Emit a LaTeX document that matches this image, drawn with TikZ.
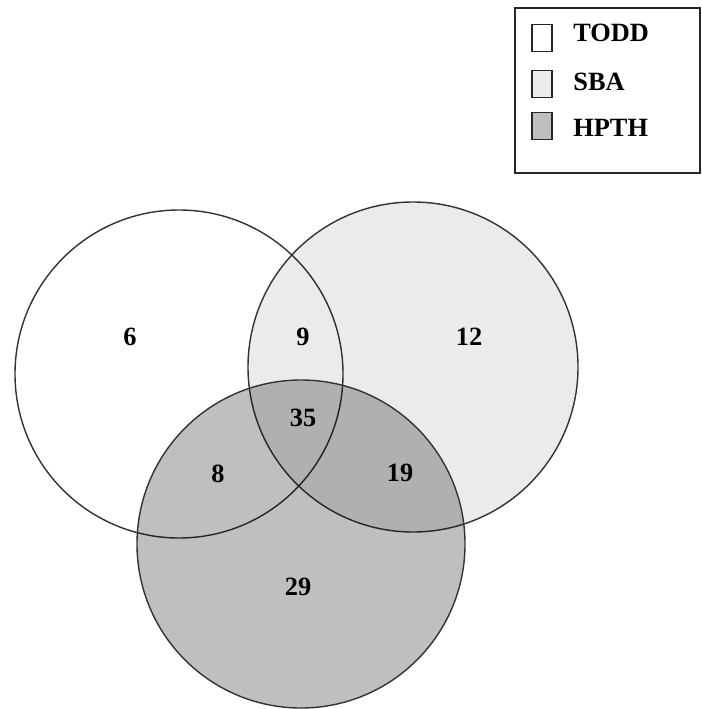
\documentclass[tikz,border=0pt]{standalone}
\usepackage{fontspec}
\setmainfont{Liberation Serif}
\usepackage{tikz}

\begin{document}
\begin{tikzpicture}[x=0.02cm, y=-0.02cm,
  set/.style={draw=black!80, line width=.8pt},
  num/.style={font=\fontsize{15}{18}\selectfont\bfseries},
  key/.style={draw=black!85, line width=.8pt, minimum width=.4cm, minimum height=.54cm, inner sep=0pt},
  keytext/.style={font=\fontsize{15}{18}\selectfont\bfseries, anchor=west, inner sep=0pt}
  ]
  \useasboundingbox (0,0) rectangle (701,709);
  % sets
  \draw[set, fill=white] (179,374) circle (164);
  \draw[set, fill=black, fill opacity=.08] (413,367) circle (165);
  \draw[set, fill=black, fill opacity=.25] (301,544) circle (164);
  % counts
  \node[num] (t) at (130,337) {6};
  \node[num] (ts) at (303,337) {9};
  \node[num] (s) at (469,337) {12};
  \node[num] (tsh) at (303,418) {35};
  \node[num] (th) at (218,474) {8};
  \node[num] (sh) at (400,473) {19};
  \node[num] (h) at (298,587) {29};
  % legend
  \draw[line width=.8pt, draw=black!85] (515,8) rectangle (700,173);
  \node[key, fill=white] (tkey) at (542,38) {};
  \node[key, fill=black!8] (skey) at (542,84) {};
  \node[key, fill=black!25] (hkey) at (542,126) {};
  \node[keytext] at (573,33) {TODD};
  \node[keytext] at (573,82) {SBA};
  \node[keytext] at (573,128) {HPTH};
\end{tikzpicture}
\end{document}
